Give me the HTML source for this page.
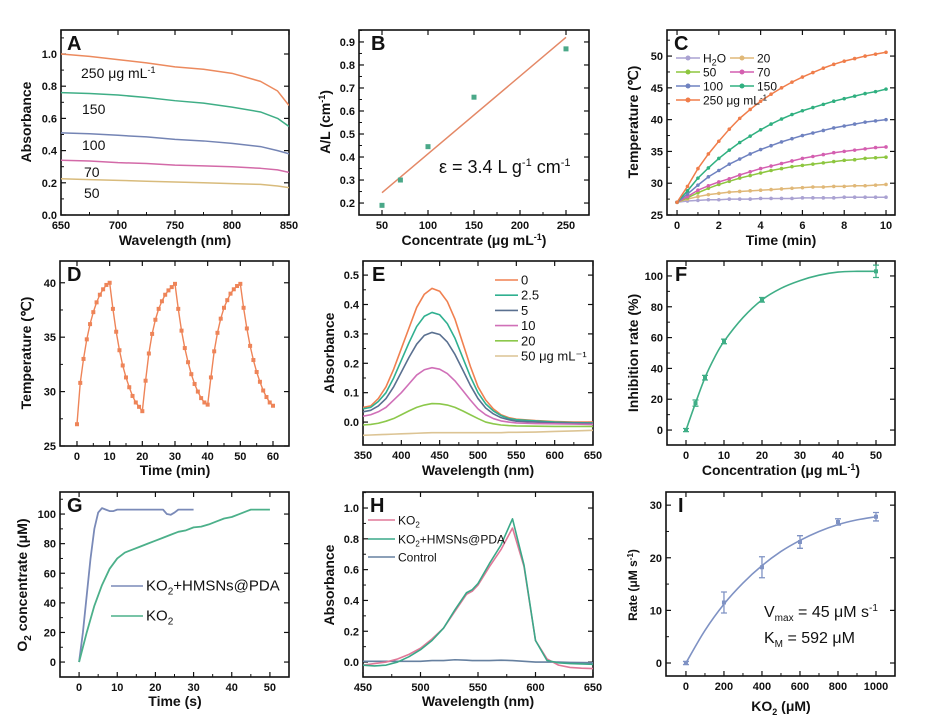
<!DOCTYPE html>
<html><head><meta charset="utf-8">
<style>
html,body{margin:0;padding:0;background:#fff;}
svg{display:block;font-family:"Liberation Sans",Arial,sans-serif;}
.tk{font-size:11px;font-weight:bold;fill:#111;}
.at{font-size:14px;font-weight:bold;fill:#111;}
.lg{font-size:13px;fill:#111;}
.pl{font-size:20px;font-weight:bold;fill:#111;}
</style></head>
<body>
<svg id="fig" width="943" height="720" viewBox="0 0 943 720" xmlns="http://www.w3.org/2000/svg">
<rect width="943" height="720" fill="#fff"/>
<!-- static text -->
<g>
<text class="pl" x="67" y="50">A</text>
<text class="pl" x="371" y="50">B</text>
<text class="pl" x="674" y="50">C</text>
<text class="pl" x="67" y="281">D</text>
<text class="pl" x="372" y="281">E</text>
<text class="pl" x="675" y="281">F</text>
<text class="pl" x="67" y="512">G</text>
<text class="pl" x="370" y="512">H</text>
<text class="pl" x="678" y="512">I</text>

<text class="at" x="175" y="245" text-anchor="middle">Wavelength (nm)</text>
<text class="at" transform="translate(31,122) rotate(-90)" text-anchor="middle">Absorbance</text>
<text class="at" x="474" y="245" text-anchor="middle">Concentrate (μg mL<tspan dy="-5" font-size="9">-1</tspan><tspan dy="5">)</tspan></text>
<text class="at" transform="translate(330,122) rotate(-90)" text-anchor="middle">A/L (cm<tspan dy="-5" font-size="9">-1</tspan><tspan dy="5">)</tspan></text>
<text class="at" x="781" y="245" text-anchor="middle">Time (min)</text>
<text class="at" transform="translate(638,122) rotate(-90)" text-anchor="middle">Temperature (℃)</text>
<text class="at" x="175" y="475" text-anchor="middle">Time (min)</text>
<text class="at" transform="translate(31,353) rotate(-90)" text-anchor="middle">Temperature (℃)</text>
<text class="at" x="478" y="475" text-anchor="middle">Wavelength (nm)</text>
<text class="at" transform="translate(334,353) rotate(-90)" text-anchor="middle">Absorbance</text>
<text class="at" x="781" y="475" text-anchor="middle">Concentration (μg mL<tspan dy="-5" font-size="9">-1</tspan><tspan dy="5">)</tspan></text>
<text class="at" transform="translate(638,353) rotate(-90)" text-anchor="middle">Inhibition rate (%)</text>
<text class="at" x="175" y="706" text-anchor="middle">Time (s)</text>
<text class="at" transform="translate(27,585) rotate(-90)" text-anchor="middle">O<tspan dy="4" font-size="10">2</tspan><tspan dy="-4"> concentrate (μM)</tspan></text>
<text class="at" x="478" y="706" text-anchor="middle">Wavelength (nm)</text>
<text class="at" transform="translate(334,585) rotate(-90)" text-anchor="middle">Absorbance</text>
<text class="at" x="781" y="711" text-anchor="middle" font-size="13">KO<tspan dy="4" font-size="9">2</tspan><tspan dy="-4"> (μM)</tspan></text>
<text class="at" transform="translate(637,585) rotate(-90)" text-anchor="middle" font-size="12" style="font-size:12px">Rate (μM s<tspan dy="-4" font-size="8">-1</tspan><tspan dy="4">)</tspan></text>

<g font-size="14" fill="#111">
<text x="81" y="78">250 μg mL<tspan dy="-5" font-size="9">-1</tspan></text>
<text x="82" y="114">150</text>
<text x="82" y="150">100</text>
<text x="84" y="177">70</text>
<text x="84" y="198">50</text>
</g>
<text x="439" y="173" font-size="18" fill="#111">ε = 3.4 L  g<tspan dy="-7" font-size="11">-1</tspan><tspan dy="7"> cm</tspan><tspan dy="-7" font-size="11">-1</tspan></text>
<text x="764" y="617" font-size="16" fill="#111">V<tspan dy="4" font-size="10">max</tspan><tspan dy="-4"> = 45 μM s</tspan><tspan dy="-6" font-size="10">-1</tspan></text>
<text x="764" y="643" font-size="16" fill="#111">K<tspan dy="4" font-size="10">M</tspan><tspan dy="-4"> = 592 μM</tspan></text>
</g>
</svg>
<script>
// ---------- DATA ----------
const aWl=[650,675,700,725,750,775,800,825,840,850];
const a250=[1.0,0.985,0.965,0.945,0.92,0.905,0.88,0.83,0.77,0.68];
const a150=[0.76,0.755,0.745,0.73,0.71,0.695,0.67,0.64,0.60,0.55];
const a100=[0.51,0.505,0.495,0.485,0.47,0.46,0.445,0.425,0.40,0.38];
const a70=[0.34,0.335,0.325,0.32,0.31,0.305,0.30,0.29,0.28,0.265];
const a50=[0.225,0.22,0.215,0.21,0.205,0.2,0.195,0.19,0.18,0.17];

const bConc=[50,70,100,150,250];
const bVal=[0.19,0.30,0.445,0.66,0.87];
const bFitX=[50,250];
const bFitY=[0.245,0.92];

const cTime=[0,0.5,1,1.5,2,2.5,3,3.5,4,4.5,5,5.5,6,6.5,7,7.5,8,8.5,9,9.5,10];
const c250=[27,29.5,32.3,34.6,36.6,38.5,40.2,41.6,42.9,44.0,45.0,45.9,46.7,47.4,48.1,48.7,49.2,49.6,50.0,50.3,50.6];
const c150=[27,28.8,30.8,32.4,33.9,35.2,36.4,37.4,38.4,39.3,40.1,40.8,41.4,41.9,42.4,42.9,43.3,43.7,44.1,44.4,44.8];
const c100=[27,28.3,29.7,31.0,32.0,33.0,33.8,34.6,35.3,35.9,36.5,37.0,37.5,37.9,38.3,38.7,39.0,39.3,39.6,39.8,40.0];
const c70=[27,27.9,28.9,29.6,30.2,30.7,31.3,31.8,32.3,32.7,33.1,33.5,33.9,34.2,34.5,34.8,35.0,35.2,35.4,35.6,35.7];
const c50=[27,27.7,28.5,29.2,29.8,30.3,30.8,31.2,31.6,32.0,32.3,32.6,32.8,33.0,33.2,33.4,33.6,33.7,33.9,34.0,34.1];
const c20=[27,27.5,27.9,28.2,28.4,28.6,28.7,28.8,28.9,29.0,29.1,29.2,29.3,29.4,29.4,29.5,29.5,29.6,29.6,29.7,29.8];
const cH2O=[27,27.2,27.3,27.4,27.4,27.5,27.5,27.5,27.6,27.6,27.6,27.6,27.7,27.7,27.7,27.7,27.8,27.8,27.8,27.8,27.8];

const dTemp=[27,30.8,33.0,34.8,36.2,37.3,38.2,38.9,39.4,39.8,40.0,
37.6,35.5,33.8,32.4,31.3,30.4,29.6,29.0,28.6,28.2,
31.0,33.5,35.3,36.6,37.6,38.3,38.9,39.3,39.6,39.9,
37.6,35.6,34.0,32.7,31.6,30.7,30.0,29.4,29.0,28.8,
31.3,33.7,35.4,36.7,37.7,38.4,39.0,39.4,39.7,39.9,
37.7,35.8,34.2,32.9,31.8,30.9,30.1,29.5,29.0,28.7];

const eWl=[350,360,370,380,390,400,410,420,430,440,450,460,470,480,490,500,510,520,530,540,550,575,600,625,650];
const e0=[0.05,0.055,0.08,0.12,0.18,0.25,0.32,0.39,0.435,0.455,0.445,0.41,0.35,0.27,0.19,0.12,0.075,0.045,0.025,0.015,0.01,0.005,0.002,0.0,0.0];
const e25=[0.045,0.05,0.07,0.10,0.15,0.21,0.27,0.325,0.36,0.373,0.365,0.335,0.285,0.22,0.155,0.10,0.062,0.038,0.022,0.012,0.008,0.004,0.0,-0.002,-0.003];
const e5=[0.035,0.04,0.055,0.08,0.12,0.17,0.22,0.265,0.295,0.305,0.298,0.272,0.23,0.178,0.125,0.08,0.048,0.028,0.015,0.008,0.003,0.0,-0.003,-0.004,-0.005];
const e10=[0.02,0.025,0.035,0.05,0.075,0.10,0.13,0.16,0.178,0.185,0.18,0.165,0.14,0.108,0.075,0.045,0.025,0.012,0.004,0.0,-0.003,-0.005,-0.006,-0.007,-0.008];
const e20=[-0.01,-0.008,-0.004,0.003,0.012,0.025,0.038,0.05,0.058,0.063,0.062,0.058,0.05,0.038,0.025,0.012,0.0,-0.006,-0.01,-0.012,-0.013,-0.014,-0.015,-0.015,-0.015];
const e50=[-0.045,-0.044,-0.043,-0.042,-0.041,-0.04,-0.039,-0.038,-0.037,-0.036,-0.036,-0.036,-0.036,-0.036,-0.036,-0.036,-0.036,-0.036,-0.036,-0.035,-0.035,-0.034,-0.032,-0.03,-0.028];
const eLegend=["0","2.5","5","10","20","50 μg mL⁻¹"];

const fConc=[0,2.5,5,10,20,50];
const fVal=[0,17.5,34,57.5,84.5,103];
const fErr=[1,2,1.5,1.5,1.5,4];
const fFitX=[0,2.5,5,7.5,10,15,20,25,30,35,40,45,50];
const fFitY=[0,17.5,34,47,57.5,73,84.5,92,97,100.5,102.5,103,103];

const gTimeA=[0,1,2,3,4,5,6,7,8,9,10,12,14,16,18,20,22,23,24,25,26,28,30];
const gValA=[0,20,45,70,90,101,104,103,102,102,103,103,103,103,103,103,103,100,99.5,101,103,103,103];
const gTimeB=[0,2,4,6,8,10,12,14,16,18,20,22,24,26,28,30,32,34,36,38,40,42,44,45,50];
const gValB=[0,20,38,52,63,70,74,76,78,80,82,84,86,88,89,91,91.5,93,95,97,98,100,102,103,103];

const hWl=[450,460,470,480,490,500,510,520,530,540,545,550,560,570,580,590,600,610,620,630,640,650];
const hKO2=[-0.02,-0.01,0.0,0.02,0.05,0.09,0.15,0.22,0.33,0.44,0.46,0.5,0.62,0.73,0.87,0.62,0.14,0.02,-0.02,-0.035,-0.04,-0.042];
const hHMSN=[-0.02,-0.025,-0.02,0.0,0.035,0.08,0.14,0.22,0.34,0.45,0.47,0.51,0.64,0.76,0.93,0.63,0.14,0.01,-0.005,-0.01,-0.012,-0.015];
const hCtrl=[0.005,0.005,0.005,0.005,0.005,0.005,0.01,0.01,0.015,0.012,0.01,0.01,0.01,0.012,0.01,0.005,0.0,0.0,0.0,-0.002,-0.003,-0.004];

const iConc=[0,200,400,600,800,1000];
const iVal=[0,11.5,18.2,23,26.8,27.8];
const iErr=[0.3,2,2,1.2,0.6,0.8];
const iFitX=[0,100,200,300,400,500,600,700,800,900,1000];
const iFitY=[0,6.2,11.2,15.2,18.5,21.2,23.3,25,26.3,27.2,27.8];

// ---------- DRAWING ----------
const NS="http://www.w3.org/2000/svg";
const svg=document.getElementById('fig');
function mk(tag,attrs,parent){const e=document.createElementNS(NS,tag);for(const k in attrs)e.setAttribute(k,attrs[k]);(parent||svg).appendChild(e);return e;}

function panel(name,box,xd,yd,xt,yt,xfmt,yfmt){
  const [x0,y0,x1,y1]=box;
  const sx=v=>x0+(v-xd[0])/(xd[1]-xd[0])*(x1-x0);
  const sy=v=>y1-(v-yd[0])/(yd[1]-yd[0])*(y1-y0);
  const g=mk('g',{});
  
  
  const ax=mk('g',{},g);
  
  
  for(let v=xt[0];v<=xt[1]+1e-9;v+=xt[2]){
    const X=sx(v);
    mk('line',{x1:X,x2:X,y1:y1,y2:y1-5,stroke:'#111','stroke-width':1.2},ax);
    mk('line',{x1:X,x2:X,y1:y0,y2:y0+5,stroke:'#111','stroke-width':1.2},ax);
    const t=mk('text',{x:X,y:y1+14,'text-anchor':'middle',class:'tk'},ax);
    t.textContent=xfmt(v);
    
    
    const m=v+xt[2]/2;
    if(m<=xd[1]){const Xm=sx(m);mk('line',{x1:Xm,x2:Xm,y1:y1,y2:y1-3,stroke:'#111'},ax);}
  }
  for(let v=yt[0];v<=yt[1]+1e-9;v+=yt[2]){
    const Y=sy(v);
    mk('line',{x1:x0,x2:x0+5,y1:Y,y2:Y,stroke:'#111','stroke-width':1.2},ax);
    mk('line',{x1:x1,x2:x1-5,y1:Y,y2:Y,stroke:'#111','stroke-width':1.2},ax);
    const t=mk('text',{x:x0-4,y:Y+4,'text-anchor':'end',class:'tk'},ax);
    t.textContent=yfmt(v);
    
    
    const m=v+yt[2]/2;
    if(m<=yd[1]){const Ym=sy(m);mk('line',{x1:x0,x2:x0+3,y1:Ym,y2:Ym,stroke:'#111'},ax);}
  }
  const fr=mk('rect',{x:x0,y:y0,width:x1-x0,height:y1-y0,fill:'none',stroke:'#111','stroke-width':1.6},g);
  
  
  const clip=mk('clipPath',{id:'cp-'+name},g);
  mk('rect',{x:x0,y:y0,width:x1-x0,height:y1-y0},clip);
  const plot=mk('g',{'clip-path':'url(#cp-'+name+')'},g);
  
  
  return {sx,sy,g:plot,leg:g};
}
function line(P,xs,ys,color,name,w){
  const d=xs.map((x,i)=>(i?'L':'M')+P.sx(x).toFixed(2)+','+P.sy(ys[i]).toFixed(2)).join('');
  const e=mk('path',{d,fill:'none',stroke:color,'stroke-width':w||1.5,'stroke-linejoin':'round'},P.g);
  
  
  return e;
}
function smooth(P,xs,ys,color,name,w){
  const p=xs.map((x,i)=>[P.sx(x),P.sy(ys[i])]);
  let d='M'+p[0][0]+','+p[0][1];
  for(let i=0;i<p.length-1;i++){
    const a=p[i-1]||p[i],b=p[i],c=p[i+1],e2=p[i+2]||c;
    d+='C'+(b[0]+(c[0]-a[0])/6)+','+(b[1]+(c[1]-a[1])/6)+' '+(c[0]-(e2[0]-b[0])/6)+','+(c[1]-(e2[1]-b[1])/6)+' '+c[0]+','+c[1];
  }
  const e=mk('path',{d,fill:'none',stroke:color,'stroke-width':w||1.6},P.g);
  
  
}
function markers(P,xs,ys,color,name,shape,s){
  xs.forEach((x,i)=>{
    const X=P.sx(x),Y=P.sy(ys[i]);
    let e;
    if(shape==='sq') e=mk('rect',{x:X-s/2,y:Y-s/2,width:s,height:s,fill:color},P.g);
    else e=mk('circle',{cx:X,cy:Y,r:s,fill:color},P.g);
    
    
  });
}
function errbars(P,xs,ys,es,color,name){
  xs.forEach((x,i)=>{
    const X=P.sx(x),Ya=P.sy(ys[i]-es[i]),Yb=P.sy(ys[i]+es[i]);
    const e=mk('path',{d:`M${X},${Ya}V${Yb}M${X-3},${Ya}H${X+3}M${X-3},${Yb}H${X+3}`,stroke:color,'stroke-width':1.3,fill:'none'},P.g);
    
    
  });
}
function legend(P,x,y,len,color,label,name,mark,fs){
  const l=mk('line',{x1:x,x2:x+len,y1:y,y2:y,stroke:color,'stroke-width':1.6},P.leg);
  
  
  if(mark){const c=mk('circle',{cx:x+len/2,cy:y,r:2.5,fill:color},P.leg);
    
    }
  const t=mk('text',{x:x+len+3,y:y+4.5,'font-size':fs||13,fill:'#111'},P.leg);
  t.innerHTML=label;
  
  
}
const f1=v=>v.toFixed(1), f0=v=>String(Math.round(v));

// A
const PA=panel('a',[61,30,289,215],[650,850],[0,185/161],[650,850,50],[0,1.0,0.2],f0,f1);
line(PA,aWl,a250,'#ec8a5e','a-line-250');
line(PA,aWl,a150,'#3fae86','a-line-150');
line(PA,aWl,a100,'#7484b4','a-line-100');
line(PA,aWl,a70,'#d36aa8','a-line-70');
line(PA,aWl,a50,'#d8bb7c','a-line-50');

// B
const PB=panel('b',[359,30,589,215],[25,275],[0.148,0.952],[50,250,50],[0.2,0.9,0.1],f0,f1);
line(PB,bFitX,bFitY,'#e48866','b-fit-line');
markers(PB,bConc,bVal,'#4aa888','b-point','sq',5);

// C
const PC=panel('c',[667,30,895,215],[-0.48,10.43],[25,54.1],[0,10,2],[25,50,5],f0,f0);
const cSeries=[[cH2O,'#aaa2d2','h2o'],[c20,'#e0b878','20'],[c50,'#8dc63f','50'],[c70,'#d45fb0','70'],[c100,'#6f82c0','100'],[c150,'#30b080','150'],[c250,'#f07d4a','250']];
cSeries.forEach(s=>{line(PC,cTime,s[0],s[1],'c-line-'+s[2]);markers(PC,cTime,s[0],s[1],'c-marker-'+s[2],'c',1.8);});
legend(PC,676,58,24,'#aaa2d2','H<tspan dy="3" font-size="9">2</tspan><tspan dy="-3">O</tspan>','c-legend-h2o',1,12);
legend(PC,730,58,24,'#e0b878','20','c-legend-20',1,12);
legend(PC,676,72,24,'#8dc63f',' 50','c-legend-50',1,12);
legend(PC,730,72,24,'#d45fb0','70','c-legend-70',1,12);
legend(PC,676,86,24,'#6f82c0','100','c-legend-100',1,12);
legend(PC,730,86,24,'#30b080','150','c-legend-150',1,12);
legend(PC,676,100,24,'#f07d4a','250 μg mL<tspan dy="-4" font-size="8">-1</tspan>','c-legend-250',1,12);

// D
const PD=panel('d',[60,261,289,446],[-5.2,64.9],[25,42.0],[0,60,10],[25,40,5],f0,f0);
const dTime=dTemp.map((_,i)=>i);
line(PD,dTime,dTemp,'#ee8458','d-line',1.4);
markers(PD,dTime,dTemp,'#ee8458','d-marker','sq',4);

// E
const PE=panel('e',[363,261,593,445],[350,650],[-0.078,0.548],[350,650,50],[0,0.5,0.1],f0,f1);
const eSeries=[[e0,'#f08050'],[e25,'#30b090'],[e5,'#5a7090'],[e10,'#d070b8'],[e20,'#8cc84b'],[e50,'#dcc494']];
eSeries.forEach((s,i)=>{line(PE,eWl,s[0],s[1],'e-line-'+i,1.6);legend(PE,495,280+i*15.2,23,s[1],eLegend[i],'e-legend-'+i,0,13);});

// F
const PF=panel('f',[667,261,895,445],[-5,55],[-9.7,109.7],[0,50,10],[0,100,20],f0,f0);
smooth(PF,fFitX,fFitY,'#3fae86','f-fit-curve');
errbars(PF,fConc,fVal,fErr,'#3fae86','f-error-bar');
markers(PF,fConc,fVal,'#3fae86','f-point','sq',4);

// G
const PG=panel('g',[60,492,289,677],[-5,55],[-10.1,114.9],[0,50,10],[0,100,20],f0,f0);
line(PG,gTimeA,gValA,'#7a8ab8','g-line-hmsns',1.8);
line(PG,gTimeB,gValB,'#4cb08a','g-line-ko2',1.8);
legend(PG,111,586,32,'#7a8ab8','KO<tspan dy="4" font-size="10">2</tspan><tspan dy="-4">+HMSNs@PDA</tspan>','g-legend-hmsns',0,15);
legend(PG,111,616,32,'#4cb08a','KO<tspan dy="4" font-size="10">2</tspan>','g-legend-ko2',0,15);

// H
const PH=panel('h',[363,492,593,677],[450,650],[-0.097,1.104],[450,650,50],[0,1.0,0.2],f0,f1);
line(PH,hWl,hCtrl,'#6680a0','h-line-control',1.6);
line(PH,hWl,hKO2,'#e07898','h-line-ko2',1.6);
line(PH,hWl,hHMSN,'#3aa888','h-line-hmsns',1.6);
legend(PH,368,520,27,'#e07898','KO<tspan dy="3" font-size="8">2</tspan>','h-legend-ko2',0,12);
legend(PH,368,539,27,'#3aa888','KO<tspan dy="3" font-size="8">2</tspan><tspan dy="-3">+HMSNs@PDA</tspan>','h-legend-hmsns',0,12);
legend(PH,368,557,27,'#6680a0','Control','h-legend-control',0,12);

// I
const PI=panel('i',[666,492,895,676],[-105,1100],[-2.47,32.5],[0,1000,200],[0,30,10],f0,f0);
smooth(PI,iFitX,iFitY,'#7f92c4','i-fit-curve');
errbars(PI,iConc,iVal,iErr,'#7f92c4','i-error-bar');
markers(PI,iConc,iVal,'#7f92c4','i-point','sq',4);
</script>
</body></html>
